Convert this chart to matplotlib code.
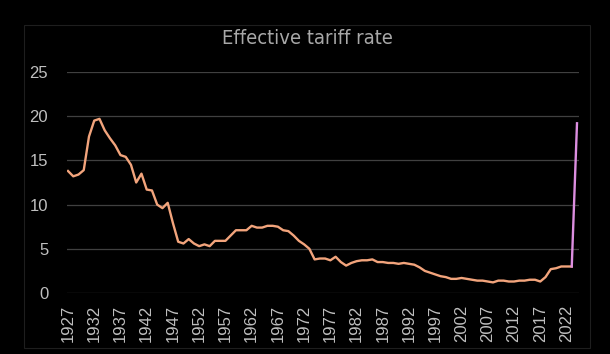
import matplotlib
matplotlib.use("Agg")
import matplotlib.pyplot as plt
from matplotlib.patches import Rectangle

# effective tariff rate
years = list(range(1927, 2024))
rate = [13.8, 13.2, 13.4, 13.9, 17.7, 19.5, 19.7, 18.4, 17.5, 16.7,
        15.6, 15.4, 14.5, 12.5, 13.5, 11.7, 11.6, 10.0, 9.6, 10.2,
        7.9, 5.8, 5.6, 6.1, 5.6, 5.3, 5.5, 5.3, 5.9, 5.9,
        5.9, 6.5, 7.1, 7.1, 7.1, 7.6, 7.4, 7.4, 7.6, 7.6,
        7.5, 7.1, 7.0, 6.5, 5.9, 5.5, 5.0, 3.8, 3.9, 3.9,
        3.7, 4.1, 3.5, 3.1, 3.4, 3.6, 3.7, 3.7, 3.8, 3.5,
        3.5, 3.4, 3.4, 3.3, 3.4, 3.3, 3.2, 2.9, 2.5, 2.3,
        2.1, 1.9, 1.8, 1.6, 1.6, 1.7, 1.6, 1.5, 1.4, 1.4,
        1.3, 1.2, 1.4, 1.4, 1.3, 1.3, 1.4, 1.4, 1.5, 1.5,
        1.3, 1.8, 2.7, 2.8, 3.0, 3.0, 3.0]
# the jump at the end, drawn in a second colour
jump_years = [2023, 2024]
jump_rate = [3.0, 19.2]
tick_years = list(range(1927, 2023, 5))

bg = "black"
fig = plt.figure(figsize=(6.10, 3.54), dpi=100, facecolor=bg)
ax = fig.add_axes([67 / 610, 1 - 293 / 354, 512 / 610, 221 / 354])
ax.set_facecolor(bg)

# faint chart frame
fig.patches.append(Rectangle((24 / 610, 1 - 348 / 354), 566 / 610, 323 / 354,
                             transform=fig.transFigure, fill=False,
                             edgecolor="#1e1e1e", lw=0.8))

ax.plot(years, rate, color="#f2a47c", lw=1.7, solid_joinstyle="round", zorder=3)
ax.plot(jump_years, jump_rate, color="#dc8ee0", lw=1.7, zorder=3)

ax.set_ylim(0, 25)
ax.set_xlim(1927 - 1 / 5.25, 2024 + 2 / 5.25)
ax.set_yticks(range(0, 26, 5))
ax.set_xticks(tick_years)
ax.set_xticklabels([str(y) for y in tick_years], rotation=90)
ax.grid(axis="y", color="#404040", lw=0.9)
ax.set_axisbelow(True)
for s in ax.spines.values():
    s.set_visible(False)
ax.tick_params(axis="y", length=0, pad=13.5, labelsize=12, labelcolor="#bfbfbf")
ax.tick_params(axis="x", length=0, pad=8.5, labelsize=12, labelcolor="#bfbfbf")
for lab in ax.get_xticklabels() + ax.get_yticklabels():
    lab.set_family("Liberation Sans")

fig.text(307 / 610, 1 - 39 / 354, "Effective tariff rate", ha="center", va="center",
         color="#a8a8a8", fontsize=14.5, fontstretch="condensed",
         family=["DejaVu Sans"])

fig.savefig("out.png", dpi=100, facecolor=bg)
